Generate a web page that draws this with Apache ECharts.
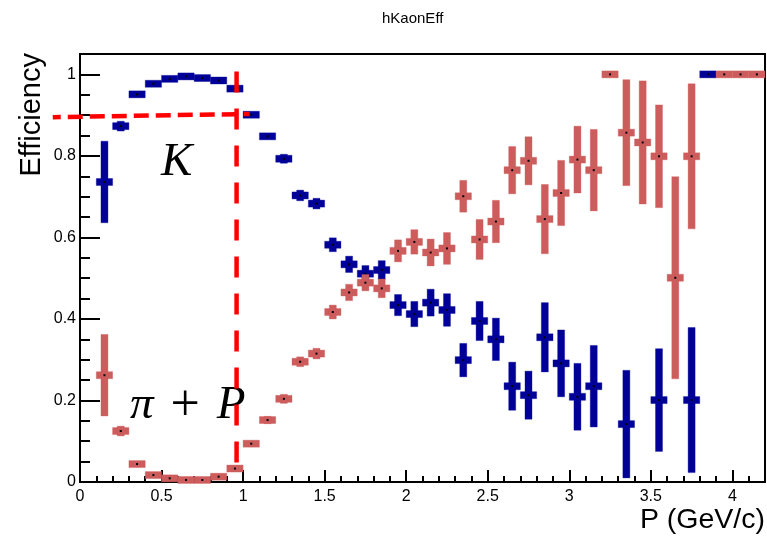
<!DOCTYPE html>
<html>
<head>
<meta charset="utf-8">
<script src="https://cdn.jsdelivr.net/npm/echarts@6/dist/echarts.min.js"></script>
<style>
  html, body { margin: 0; padding: 0; background: #fff; }
  #main { width: 767px; height: 537px; }
</style>
</head>
<body>
<div id="main"></div>
<script>
  // K efficiency (blue)
  var kaonX = [0.15, 0.25, 0.35, 0.45, 0.55, 0.65, 0.75, 0.85, 0.95, 1.05,
    1.15, 1.25, 1.35, 1.45, 1.55, 1.65, 1.75, 1.85, 1.95, 2.05,
    2.15, 2.25, 2.35, 2.45, 2.55, 2.65, 2.75, 2.85, 2.95, 3.05,
    3.15, 3.35, 3.55, 3.75, 3.85];
  var kaonEff = [0.736, 0.873, 0.951, 0.977, 0.989, 0.995, 0.991, 0.985, 0.965, 0.901,
    0.848, 0.793, 0.703, 0.683, 0.582, 0.534, 0.511, 0.520, 0.434, 0.412,
    0.440, 0.422, 0.299, 0.395, 0.350, 0.235, 0.213, 0.355, 0.291, 0.209,
    0.235, 0.142, 0.201, 0.201, 1.0];
  var kaonErr = [0.100, 0.012, 0.004, 0.003, 0.002, 0.002, 0.002, 0.003, 0.004, 0.005,
    0.008, 0.011, 0.013, 0.013, 0.017, 0.020, 0.020, 0.023, 0.026, 0.031,
    0.033, 0.040, 0.041, 0.048, 0.052, 0.059, 0.059, 0.085, 0.082, 0.082,
    0.100, 0.132, 0.126, 0.178, 0];

  // pi + P efficiency (red)
  var pipX = [0.15, 0.25, 0.35, 0.45, 0.55, 0.65, 0.75, 0.85, 0.95, 1.05,
    1.15, 1.25, 1.35, 1.45, 1.55, 1.65, 1.75, 1.85, 1.95, 2.05,
    2.15, 2.25, 2.35, 2.45, 2.55, 2.65, 2.75, 2.85, 2.95, 3.05,
    3.15, 3.25, 3.35, 3.45, 3.55, 3.65, 3.75, 3.95, 4.05, 4.15];
  var pipEff = [0.262, 0.125, 0.044, 0.017, 0.009, 0.005, 0.005, 0.013, 0.033, 0.094,
    0.152, 0.204, 0.295, 0.315, 0.417, 0.465, 0.489, 0.475, 0.567, 0.589,
    0.563, 0.573, 0.701, 0.595, 0.639, 0.765, 0.788, 0.645, 0.709, 0.791,
    0.765, 1.0, 0.857, 0.833, 0.799, 0.501, 0.799, 1.0, 1.0, 1.0];
  var pipErr = [0.100, 0.012, 0.006, 0.004, 0.003, 0.002, 0.002, 0.003, 0.004, 0.006,
    0.009, 0.011, 0.012, 0.013, 0.017, 0.020, 0.020, 0.023, 0.027, 0.030,
    0.033, 0.039, 0.039, 0.049, 0.052, 0.058, 0.059, 0.085, 0.080, 0.082,
    0.100, 0, 0.130, 0.151, 0.126, 0.248, 0.178, 0, 0, 0];

  // dashed cut lines
  var cutHorizX = [-0.167, 1.04];
  var cutHorizY = [0.895, 0.903];
  var cutVertX = [0.96, 0.96];
  var cutVertY = [1.007, 0.045];

  var binHalf = 0.05;

  function zip(xs, ys, es) {
    return xs.map(function (x, i) { return es ? [x, ys[i], es[i]] : [x, ys[i]]; });
  }

  function errItem(color, edge) {
    return function (params, api) {
      var x = api.value(0), y = api.value(1), e = api.value(2);
      var l = api.coord([x - binHalf, y]);
      var r = api.coord([x + binHalf, y]);
      var t = api.coord([x, y + e]);
      var b = api.coord([x, y - e]);
      var st = {fill: color, stroke: edge, lineWidth: 1};
      var kids = [{
        type: 'rect',
        shape: {x: l[0], y: l[1] - 3.5, width: r[0] - l[0], height: 7},
        style: st
      }];
      if (b[1] - t[1] > 7) {
        kids.push({
          type: 'rect',
          shape: {x: t[0] - 3.5, y: t[1], width: 7, height: b[1] - t[1]},
          style: st
        });
      }
      kids.push({
        type: 'rect',
        shape: {x: l[0] + (r[0] - l[0]) / 2 - 1, y: l[1] - 1, width: 2, height: 2},
        style: {fill: '#000'}
      });
      return {type: 'group', children: kids};
    };
  }

  var chart = echarts.init(document.getElementById('main'));
  chart.setOption({
    animation: false,
    title: {
      text: 'hKaonEff', left: 377, top: 6,
      textStyle: {fontFamily: 'Liberation Sans', fontSize: 15, fontWeight: 'normal', color: '#000'}
    },
    grid: {left: 80, right: 2, top: 54, bottom: 55, show: true, borderColor: '#000', borderWidth: 2},
    xAxis: [{
      type: 'value', position: 'bottom', min: 0, max: 4.2, interval: 0.1,
      axisLine: {show: false}, splitLine: {show: false},
      axisTick: {inside: true, length: 6, lineStyle: {color: '#000', width: 2}},
      axisLabel: {show: false}
    }, {
      type: 'value', position: 'bottom', min: 0, max: 4.2, interval: 0.5,
      axisLine: {show: false}, splitLine: {show: false},
      axisTick: {inside: true, length: 12, lineStyle: {color: '#000', width: 2}},
      axisLabel: {
        show: true, showMaxLabel: false, margin: 7, color: '#000',
        fontFamily: 'Liberation Sans', fontSize: 16
      }
    }],
    yAxis: [{
      type: 'value', position: 'left', min: 0, max: 1.05, interval: 0.05,
      axisLine: {show: false}, splitLine: {show: false},
      axisTick: {inside: true, length: 10, lineStyle: {color: '#000', width: 2}},
      axisLabel: {show: false}
    }, {
      type: 'value', position: 'left', min: 0, max: 1.05, interval: 0.2,
      axisLine: {show: false}, splitLine: {show: false},
      axisTick: {inside: true, length: 20, lineStyle: {color: '#000', width: 2}},
      axisLabel: {
        show: true, showMaxLabel: false, margin: 4, color: '#000',
        fontFamily: 'Liberation Sans', fontSize: 16
      }
    }],
    series: [{
      type: 'custom', name: 'K', xAxisIndex: 0, yAxisIndex: 0,
      encode: {x: 0, y: 1},
      renderItem: errItem('#000099', 'rgba(0,0,153,0.35)'),
      data: zip(kaonX, kaonEff, kaonErr), z: 2
    }, {
      type: 'custom', name: 'pi+P', xAxisIndex: 0, yAxisIndex: 0,
      encode: {x: 0, y: 1},
      renderItem: errItem('#cd5c5c', 'rgba(205,92,92,0.35)'),
      data: zip(pipX, pipEff, pipErr), z: 3
    }]
  });

  // cut lines go through the axis scales, the horizontal one runs past the frame
  function toPx(xs, ys) {
    return xs.map(function (x, i) {
      return chart.convertToPixel({xAxisIndex: 0, yAxisIndex: 0}, [x, ys[i]]);
    });
  }

  chart.setOption({
    graphic: [{
      type: 'text', x: 32, y: 53, rotation: Math.PI / 2,
      style: {
        text: 'Efficiency', fill: '#000', font: '29px "Liberation Sans"',
        textAlign: 'right', textVerticalAlign: 'middle'
      }
    }, {
      type: 'text', x: 765, y: 520,
      style: {
        text: 'P (GeV/c)', fill: '#000', font: '28.5px "Liberation Sans"',
        textAlign: 'right', textVerticalAlign: 'middle'
      }
    }, {
      type: 'text', x: 161, y: 186, z: 10,
      style: {
        text: 'K', fill: '#000', font: 'italic 47px "Liberation Serif"',
        textAlign: 'left', textVerticalAlign: 'bottom'
      }
    }, {
      type: 'text', x: 130, y: 432, z: 10,
      style: {
        text: '{i|π}{s|+}{i|P}', fill: '#000', font: '47px "Liberation Serif"',
        textAlign: 'left', textVerticalAlign: 'bottom',
        rich: {
          i: {font: 'italic 47px "Liberation Serif"'},
          s: {font: '52px "Liberation Serif"', padding: [0, 17, 0, 17]}
        }
      }
    }, {
      type: 'polyline', z: 20,
      shape: {points: toPx(cutHorizX, cutHorizY)},
      style: {stroke: '#ff0000', lineWidth: 4.5, lineDash: [15, 7], lineDashOffset: 7, fill: null}
    }, {
      type: 'polyline', z: 20,
      shape: {points: toPx(cutVertX, cutVertY)},
      style: {stroke: '#ff0000', lineWidth: 4.5, lineDash: [21, 16], fill: null}
    }]
  });
</script>
</body>
</html>
